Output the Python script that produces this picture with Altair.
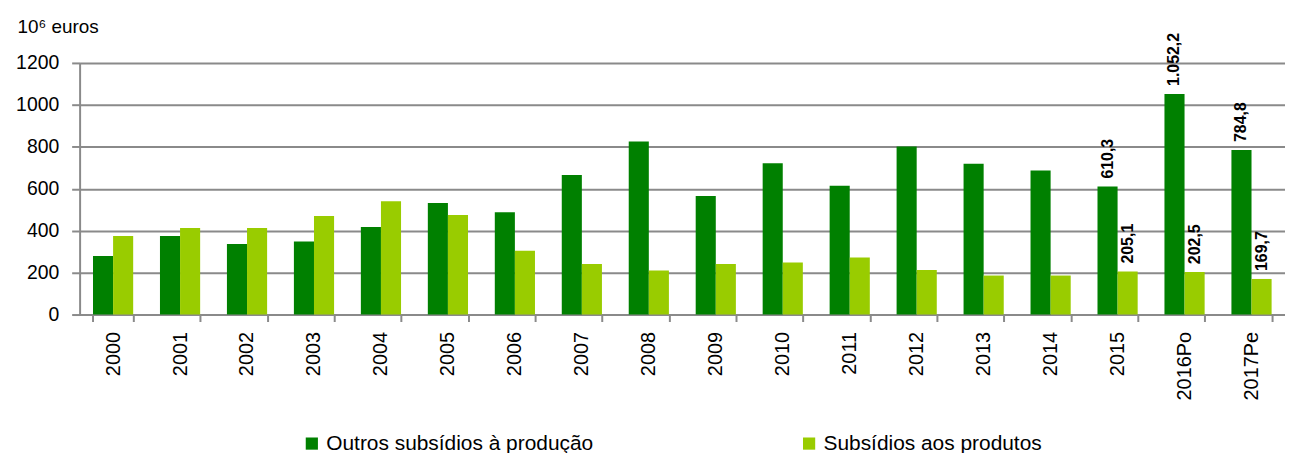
import altair as alt
import pandas as pd

years = ["2000", "2001", "2002", "2003", "2004", "2005", "2006", "2007", "2008",
         "2009", "2010", "2011", "2012", "2013", "2014", "2015", "2016Po", "2017Pe"]
outros = [279, 375, 337, 348, 418, 532, 488, 665, 825, 565, 722, 614, 802, 719, 687,
          610.3, 1052.2, 784.8]
produtos = [375, 413, 413, 470, 540, 475, 304, 241, 210, 241, 248, 272, 213, 186, 186,
            205.1, 202.5, 169.7]
series = ["Outros subsídios à produção", "Subsídios aos produtos"]
labels_outros = [""] * 15 + ["610,3", "1.052,2", "784,8"]
labels_produtos = [""] * 15 + ["205,1", "202,5", "169,7"]
colors = ["#008000", "#99CC00"]
y_ticks = [0, 200, 400, 600, 800, 1000, 1200]

rows = []
for i, y in enumerate(years):
    rows.append({"year": y, "serie": series[0], "value": outros[i], "label": labels_outros[i]})
    rows.append({"year": y, "serie": series[1], "value": produtos[i], "label": labels_produtos[i]})
df = pd.DataFrame(rows)

FONT = "Liberation Sans"
GRAY = "#8a8a8a"

base = alt.Chart(df).encode(
    x=alt.X("year:N", sort=years,
            scale=alt.Scale(paddingInner=0.4, paddingOuter=0.2),
            axis=alt.Axis(title=None, labelAngle=-90, labelFontSize=20, labelColor="black",
                          labelFont=FONT, tickBand="extent", domainColor=GRAY, domainWidth=2,
                          tickColor=GRAY, tickWidth=2, tickSize=7, labelPadding=10, grid=False)),
    xOffset=alt.XOffset("serie:N", sort=series),
    y=alt.Y("value:Q", scale=alt.Scale(domain=[0, 1200], nice=False),
            axis=alt.Axis(values=y_ticks, format="d", grid=True, gridColor=GRAY, gridWidth=2,
                          domainColor=GRAY, domainWidth=2, tickColor=GRAY, tickWidth=2,
                          tickSize=8, labelFontSize=19.5, labelFont=FONT, labelColor="black",
                          labelPadding=13,
                          title="10⁶ euros", titleAngle=0, titleX=-63, titleY=-37,
                          titleAlign="left", titleBaseline="middle", titleFontSize=19,
                          titleFont=FONT, titleFontWeight="normal", titleColor="black")),
)

bars = base.mark_bar().encode(
    color=alt.Color("serie:N", sort=series,
                    scale=alt.Scale(domain=series, range=colors),
                    legend=alt.Legend(title=None, orient="none", legendX=223, legendY=372,
                                      direction="horizontal", symbolType="square",
                                      symbolSize=150, symbolStrokeWidth=0,
                                      labelFontSize=21, labelFont=FONT, labelColor="black",
                                      columnPadding=206, labelLimit=400))
)

text = base.mark_text(angle=270, align="left", baseline="middle", dx=8,
                      fontWeight="bold", fontSize=16, font=FONT, color="black").encode(
    text="label:N"
)

chart = (bars + text).properties(
    width=1212, height=253,
    padding={"left": 7, "top": 8, "right": 0, "bottom": 0}
).configure_view(stroke=None)

chart.save("out.html", embed_options={"renderer": "svg", "actions": False})
